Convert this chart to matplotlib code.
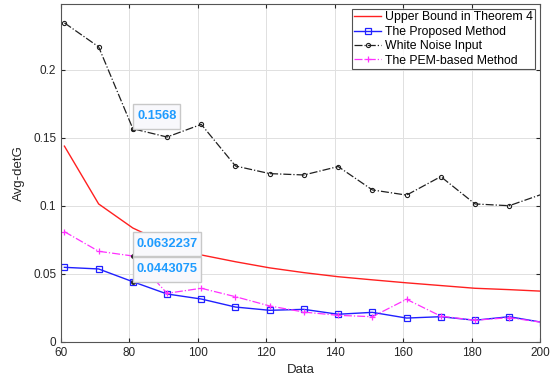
import matplotlib.pyplot as plt
import matplotlib.transforms as mtransforms
from matplotlib.patches import Rectangle
import numpy as np

plt.rcParams['font.family'] = ['Liberation Sans', 'DejaVu Sans']

# data
n_data = [61, 71, 81, 91, 101, 111, 121, 131, 141, 151, 161, 171, 181, 191, 201]
upper_bound = [0.144, 0.1015, 0.0838, 0.072, 0.064, 0.059, 0.0545, 0.051, 0.048,
               0.0457, 0.0435, 0.0415, 0.0395, 0.0385, 0.0373]
proposed = [0.0549, 0.0537, 0.0443075, 0.0353, 0.0316, 0.0257, 0.0233, 0.024, 0.0204,
            0.0218, 0.0176, 0.0186, 0.016, 0.0186, 0.0143]
white_noise = [0.2346, 0.217, 0.1568, 0.1507, 0.160, 0.1294, 0.1238, 0.1228, 0.129,
               0.1118, 0.108, 0.1216, 0.1015, 0.1002, 0.109]
pem = [0.0811, 0.0667, 0.0632237, 0.0358, 0.0395, 0.0333, 0.0265, 0.022, 0.0196,
       0.0186, 0.0314, 0.019, 0.016, 0.0179, 0.0143]

# data tips
tip_x = [81, 81, 81]
tip_y = [0.1568, 0.0632237, 0.0443075]
tip_text = ['0.1568', '0.0632237', '0.0443075']

fig = plt.figure(figsize=(5.58, 3.82), dpi=100)
ax = fig.add_axes([61 / 558, 1 - 342 / 382, 479 / 558, 338 / 382])

ax.plot(n_data, upper_bound, color='#ff2020', lw=1.0, label='Upper Bound in Theorem 4')
ax.plot(n_data, proposed, color='#2020ff', lw=1.0, marker='s', ms=4, mfc='none',
        mew=0.9, label='The Proposed Method')
ax.plot(n_data, white_noise, color='#202020', lw=0.9, ls='-.', marker='o', ms=3,
        mfc='none', mew=0.8, label='White Noise Input')
ax.plot(n_data, pem, color='#ff30ff', lw=0.9, ls='-.', marker='+', ms=5, mew=0.9,
        label='The PEM-based Method')

# datatip boxes: lower-left corner on the point, size in inches
for x, y, t in zip(tip_x, tip_y, tip_text):
    w = 0.05 + 0.07 * len(t)
    h = 0.245
    trans = fig.dpi_scale_trans + mtransforms.ScaledTranslation(x, y, ax.transData)
    ax.plot(x, y, 'o', color='#202020', ms=2.5, zorder=5)
    ax.add_patch(Rectangle((0.006, 0), w, h, transform=trans, fc='#f8f8fc',
                           ec='#c8c8c8', lw=1, zorder=6, clip_on=False))
    ax.text(0.006 + w / 2, h / 2, t, transform=trans, ha='center', va='center',
            fontsize=9.3, fontweight='bold', color='#1e9bff', zorder=7)

ax.set_xlim(60, 200)
ax.set_ylim(0, 0.2485)
ax.set_xticks(np.arange(60, 201, 20))
ax.set_yticks([0, 0.05, 0.1, 0.15, 0.2])
ax.set_yticklabels(['0', '0.05', '0.1', '0.15', '0.2'])
ax.grid(True, color='#e0e0e0', lw=0.7)
ax.set_axisbelow(True)
ax.tick_params(direction='in', top=True, right=True, labelsize=8.5, colors='#262626',
               length=3)
for s in ax.spines.values():
    s.set_color('#555555')
    s.set_linewidth(0.8)

ax.set_xlabel('Data', fontsize=9.5, color='#262626', labelpad=4)
ax.set_ylabel('Avg-detG', fontsize=9.5, color='#262626', labelpad=6)

leg = ax.legend(loc='upper right', fontsize=8.8, frameon=True, fancybox=False,
                edgecolor='#262626', borderpad=0.2, handlelength=2.2, handletextpad=0.3,
                labelspacing=0.2, borderaxespad=0.4)
leg.get_frame().set_linewidth(0.8)

fig.savefig('out.png', dpi=100)
